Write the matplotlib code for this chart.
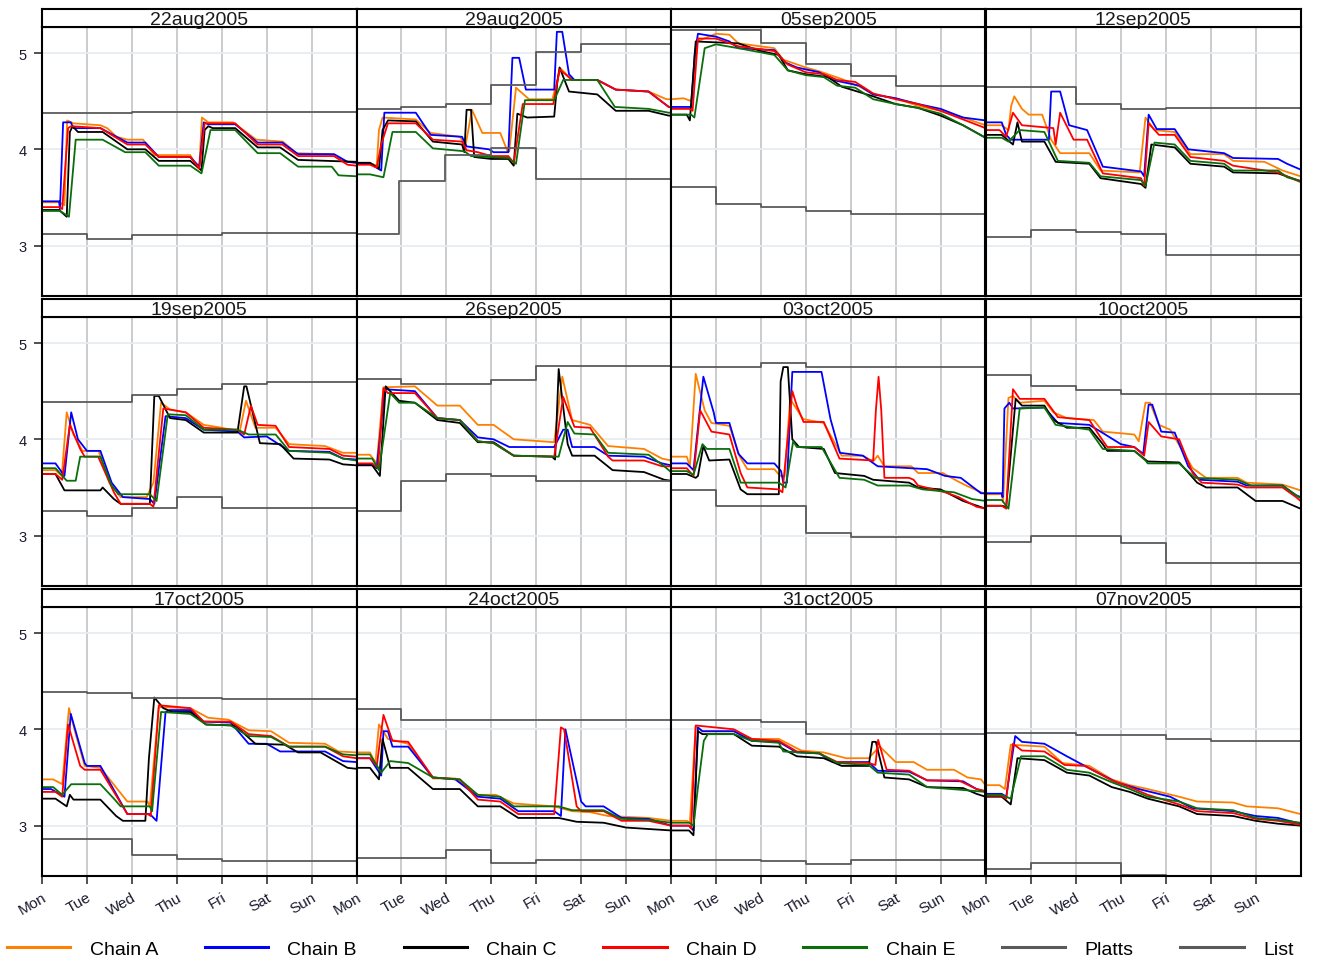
import numpy as np
import matplotlib
matplotlib.use('Agg')
import matplotlib.pyplot as plt
from matplotlib.lines import Line2D

plt.rcParams['font.family'] = ['Liberation Sans', 'DejaVu Sans']

weeks = ['22aug2005', '29aug2005', '05sep2005', '12sep2005',
         '19sep2005', '26sep2005', '03oct2005', '10oct2005',
         '17oct2005', '24oct2005', '31oct2005', '07nov2005']
day_labels = ['Mon', 'Tue', 'Wed', 'Thu', 'Fri', 'Sat', 'Sun']

# (day within week, price), one sublist per week
chain_a = [
    [(0,3.45),(0.38,3.45),(0.5,3.42),(0.56,4.30),(0.7,4.27),(1.3,4.25),(1.45,4.22),(1.66,4.13),(1.9,4.10),(2.25,4.10),(2.5,3.94),(3.3,3.94),(3.45,3.82),(3.5,3.82),(3.56,4.33),(3.7,4.28),(4.25,4.28),(4.77,4.10),(5.36,4.08),(5.66,3.96),(6.4,3.95),(6.77,3.87),(7,3.86)],
    [(0,3.86),(0.29,3.86),(0.45,3.83),(0.5,4.2),(0.58,4.33),(1.32,4.31),(1.65,4.17),(2.3,4.13),(2.43,4.05),(2.57,4.41),(2.8,4.17),(3.2,4.17),(3.36,3.98),(3.4,3.98),(3.55,4.64),(3.84,4.52),(4.36,4.52),(4.54,4.84),(4.8,4.72),(5.36,4.72),(5.77,4.62),(6.5,4.60),(6.9,4.52),(7,4.52)],
    [(0,4.52),(0.28,4.53),(0.45,4.50),(0.58,5.12),(1.0,5.20),(1.3,5.19),(1.5,5.10),(2.3,5.05),(2.5,4.93),(3.0,4.85),(3.3,4.81),(3.8,4.73),(4.2,4.65),(4.5,4.57),(5.0,4.53),(5.5,4.45),(6.0,4.40),(6.5,4.33),(7,4.25)],
    [(0,4.25),(0.35,4.25),(0.5,4.20),(0.56,4.45),(0.63,4.55),(0.8,4.42),(0.95,4.36),(1.25,4.36),(1.45,4.10),(1.65,3.96),(2.3,3.96),(2.55,3.78),(3.42,3.76),(3.55,4.33),(3.75,4.20),(4.2,4.18),(4.55,3.95),(5.3,3.95),(5.5,3.88),(6.2,3.87),(6.6,3.78),(7,3.72)],
    [(0,3.68),(0.3,3.68),(0.44,3.62),(0.55,4.28),(0.7,4.05),(0.9,3.88),(1.26,3.88),(1.5,3.55),(1.75,3.40),(2.33,3.40),(2.48,3.55),(2.65,4.38),(2.85,4.31),(3.2,4.28),(3.6,4.15),(4.0,4.12),(4.4,4.08),(4.54,4.40),(4.75,4.12),(5.2,4.12),(5.5,3.95),(6.3,3.93),(6.7,3.86),(7,3.86)],
    [(0,3.84),(0.3,3.84),(0.45,3.75),(0.6,4.54),(1.3,4.55),(1.8,4.35),(2.3,4.35),(2.7,4.15),(3.05,4.15),(3.5,4.00),(4.4,3.97),(4.58,4.65),(4.8,4.20),(5.2,4.15),(5.6,3.93),(6.4,3.90),(6.8,3.80),(7,3.78)],
    [(0,3.82),(0.35,3.82),(0.42,3.72),(0.55,4.68),(0.75,4.30),(0.9,4.17),(1.3,4.14),(1.53,3.82),(1.7,3.69),(2.3,3.69),(2.43,3.62),(2.53,3.62),(2.65,4.42),(2.94,4.21),(3.4,4.17),(3.8,3.83),(4.27,3.83),(4.5,3.77),(4.6,3.83),(4.75,3.72),(5.35,3.72),(5.5,3.65),(6.05,3.65),(6.4,3.56),(6.57,3.52),(7,3.43)],
    [(0,3.43),(0.35,3.43),(0.38,3.35),(0.5,4.43),(0.6,4.45),(0.75,4.38),(1.3,4.40),(1.5,4.28),(1.8,4.22),(2.4,4.20),(2.6,4.08),(3.3,4.05),(3.4,3.98),(3.55,4.38),(3.65,4.38),(3.85,4.15),(4.1,4.10),(4.6,3.70),(4.9,3.60),(5.6,3.60),(5.8,3.55),(6.6,3.53),(7,3.47)],
    [(0,3.48),(0.25,3.48),(0.45,3.43),(0.6,4.22),(0.75,3.95),(0.95,3.62),(1.3,3.60),(1.9,3.25),(2.35,3.25),(2.4,3.20),(2.6,4.23),(3.3,4.22),(3.7,4.12),(4.15,4.10),(4.6,3.99),(5.1,3.98),(5.5,3.86),(6.3,3.85),(6.6,3.77),(7,3.76)],
    [(0,3.76),(0.3,3.76),(0.42,3.65),(0.5,4.05),(0.7,3.90),(1.15,3.85),(1.7,3.49),(2.2,3.49),(2.7,3.32),(3.1,3.32),(3.5,3.23),(4.4,3.20),(4.8,3.15),(5.2,3.14),(5.6,3.10),(6.5,3.08),(7,3.05)],
    [(0,3.05),(0.35,3.05),(0.42,3.03),(0.55,4.03),(0.7,3.98),(1.4,3.98),(1.8,3.90),(2.4,3.90),(2.9,3.78),(3.4,3.76),(3.9,3.70),(4.4,3.70),(4.6,3.80),(4.65,3.82),(5.0,3.66),(5.4,3.66),(5.7,3.58),(6.3,3.58),(6.6,3.50),(6.9,3.48),(7,3.42)],
    [(0,3.42),(0.3,3.42),(0.42,3.38),(0.55,3.84),(1.3,3.82),(1.7,3.65),(2.3,3.62),(2.8,3.48),(3.2,3.42),(3.6,3.38),(4.3,3.30),(4.7,3.25),(5.5,3.24),(5.8,3.20),(6.5,3.18),(7,3.12)],
]

chain_b = [
    [(0,3.46),(0.38,3.46),(0.4,3.38),(0.47,4.28),(0.64,4.28),(0.7,4.22),(1.3,4.22),(1.9,4.07),(2.3,4.07),(2.6,3.92),(3.3,3.92),(3.5,3.82),(3.6,4.28),(3.7,4.26),(4.3,4.26),(4.8,4.07),(5.35,4.07),(5.7,3.95),(6.5,3.95),(6.8,3.87),(7,3.86)],
    [(0,3.85),(0.3,3.85),(0.55,3.78),(0.62,4.38),(1.32,4.38),(1.65,4.15),(2.35,4.13),(2.45,4.03),(2.95,4.0),(3.05,3.97),(3.38,3.97),(3.47,4.95),(3.62,4.95),(3.77,4.62),(4.4,4.62),(4.46,5.22),(4.58,5.22),(4.73,4.78),(4.85,4.72),(5.36,4.72),(5.77,4.62),(6.5,4.60),(6.95,4.44),(7,4.44)],
    [(0,4.44),(0.45,4.44),(0.53,5.0),(0.6,5.20),(1.0,5.17),(1.3,5.12),(1.5,5.05),(2.3,5.03),(2.55,4.90),(2.8,4.85),(3.3,4.80),(3.6,4.72),(4.2,4.66),(4.5,4.57),(5.0,4.53),(5.5,4.47),(6.0,4.42),(6.5,4.33),(7,4.30)],
    [(0,4.28),(0.35,4.28),(0.45,4.15),(0.55,4.10),(1.4,4.10),(1.45,4.60),(1.65,4.60),(1.85,4.25),(2.25,4.20),(2.6,3.82),(3.45,3.77),(3.52,3.72),(3.62,4.36),(3.8,4.21),(4.2,4.21),(4.5,4.0),(5.3,3.96),(5.5,3.91),(6.5,3.90),(6.7,3.85),(7,3.79)],
    [(0,3.75),(0.3,3.75),(0.5,3.62),(0.65,4.28),(0.8,4.0),(1.0,3.88),(1.3,3.88),(1.55,3.55),(1.8,3.40),(2.4,3.38),(2.5,3.33),(2.75,4.24),(3.2,4.22),(3.6,4.10),(4.35,4.08),(4.5,4.02),(5.0,4.03),(5.5,3.88),(6.4,3.87),(6.7,3.80),(7,3.79)],
    [(0,3.74),(0.35,3.74),(0.45,3.70),(0.63,4.52),(1.3,4.50),(1.8,4.22),(2.3,4.20),(2.7,4.02),(3.05,4.00),(3.4,3.92),(4.4,3.92),(4.6,4.10),(4.7,4.10),(4.8,3.92),(5.3,3.92),(5.6,3.83),(6.4,3.82),(6.8,3.75),(7,3.73)],
    [(0,3.75),(0.35,3.75),(0.5,3.68),(0.72,4.65),(0.95,4.28),(1.0,4.17),(1.3,4.17),(1.5,3.85),(1.7,3.75),(2.3,3.75),(2.45,3.67),(2.5,3.55),(2.58,3.55),(2.7,4.70),(3.35,4.70),(3.55,4.21),(3.76,3.86),(4.27,3.83),(4.6,3.72),(5.7,3.69),(6.1,3.62),(6.45,3.60),(6.9,3.44),(7,3.44)],
    [(0,3.44),(0.35,3.44),(0.37,3.40),(0.41,4.32),(0.52,4.38),(0.6,4.32),(1.3,4.33),(1.6,4.17),(2.3,4.15),(2.55,4.08),(3.0,3.95),(3.3,3.92),(3.5,3.85),(3.62,4.36),(3.7,4.36),(3.9,4.08),(4.2,4.07),(4.5,3.72),(4.75,3.58),(5.6,3.56),(5.8,3.52),(6.6,3.52),(6.9,3.42),(7,3.40)],
    [(0,3.38),(0.2,3.38),(0.5,3.30),(0.64,4.16),(0.95,3.65),(1.0,3.62),(1.3,3.62),(1.9,3.12),(2.4,3.12),(2.55,3.05),(2.75,4.18),(2.85,4.20),(3.3,4.20),(3.6,4.08),(4.2,4.07),(4.6,3.85),(5.0,3.85),(5.3,3.77),(6.3,3.77),(6.7,3.67),(7,3.66)],
    [(0,3.70),(0.3,3.70),(0.55,3.52),(0.6,3.98),(0.7,3.98),(0.8,3.82),(1.15,3.82),(1.7,3.50),(2.2,3.48),(2.7,3.30),(3.2,3.28),(3.6,3.15),(4.4,3.15),(4.55,3.10),(4.65,4.00),(5.0,3.25),(5.1,3.20),(5.5,3.20),(5.9,3.08),(6.5,3.07),(7,3.00)],
    [(0,3.00),(0.4,3.00),(0.5,2.95),(0.6,4.02),(0.7,3.98),(1.4,3.98),(1.8,3.88),(2.4,3.87),(2.8,3.76),(3.3,3.75),(3.6,3.66),(4.4,3.66),(4.6,3.57),(5.3,3.56),(5.7,3.47),(6.5,3.46),(6.8,3.38),(7,3.35)],
    [(0,3.33),(0.35,3.33),(0.45,3.30),(0.65,3.93),(0.8,3.87),(1.3,3.85),(1.8,3.72),(2.2,3.62),(2.9,3.45),(3.4,3.38),(4.1,3.30),(4.6,3.18),(5.5,3.15),(6.0,3.10),(6.5,3.08),(7,3.02)],
]

chain_c = [
    [(0,3.37),(0.38,3.37),(0.55,3.30),(0.62,4.18),(0.68,4.24),(0.8,4.18),(1.35,4.18),(1.9,4.00),(2.3,4.00),(2.6,3.88),(3.3,3.88),(3.55,3.78),(3.62,4.20),(3.7,4.24),(3.8,4.22),(4.3,4.22),(4.8,4.02),(5.3,4.02),(5.7,3.89),(7,3.87)],
    [(0,3.86),(0.3,3.86),(0.5,3.80),(0.58,4.20),(0.7,4.30),(1.32,4.29),(1.7,4.08),(2.35,4.05),(2.4,3.97),(2.45,4.41),(2.55,4.41),(2.62,3.92),(3.0,3.90),(3.38,3.90),(3.5,3.83),(3.58,4.37),(3.8,4.33),(4.4,4.34),(4.47,4.70),(4.52,4.85),(4.73,4.60),(5.36,4.57),(5.77,4.40),(6.5,4.40),(6.95,4.35),(7,4.35)],
    [(0,4.36),(0.35,4.36),(0.42,4.30),(0.55,5.12),(1.5,5.10),(2.0,5.02),(2.4,4.98),(2.6,4.82),(3.0,4.78),(3.5,4.75),(3.8,4.65),(4.5,4.55),(5.0,4.47),(5.5,4.43),(6.0,4.35),(6.5,4.25),(7,4.12)],
    [(0,4.15),(0.35,4.15),(0.6,4.05),(0.7,4.28),(0.8,4.08),(1.3,4.08),(1.55,3.87),(2.3,3.85),(2.55,3.70),(3.45,3.64),(3.55,3.60),(3.68,4.05),(4.2,4.02),(4.55,3.85),(5.3,3.82),(5.5,3.76),(6.5,3.75),(7,3.67)],
    [(0,3.64),(0.3,3.64),(0.5,3.47),(1.3,3.47),(1.35,3.50),(1.6,3.38),(1.75,3.33),(2.4,3.33),(2.5,4.45),(2.6,4.45),(2.85,4.22),(3.2,4.20),(3.6,4.07),(4.35,4.07),(4.5,4.55),(4.55,4.55),(4.85,3.96),(5.3,3.95),(5.6,3.80),(6.4,3.79),(6.7,3.74),(7,3.73)],
    [(0,3.73),(0.35,3.73),(0.52,3.62),(0.65,4.55),(0.95,4.40),(1.3,4.38),(1.8,4.20),(2.3,4.17),(2.7,3.97),(3.05,3.97),(3.5,3.83),(4.35,3.82),(4.42,3.79),(4.5,4.73),(4.7,3.95),(4.8,3.83),(5.3,3.83),(5.7,3.68),(6.4,3.66),(6.85,3.58),(7,3.57)],
    [(0,3.64),(0.35,3.64),(0.55,3.60),(0.6,3.62),(0.72,3.93),(0.85,3.78),(1.3,3.79),(1.55,3.48),(1.7,3.43),(2.4,3.43),(2.44,4.60),(2.5,4.75),(2.6,4.75),(2.7,4.00),(2.85,3.92),(3.4,3.90),(3.65,3.65),(4.3,3.62),(4.5,3.58),(5.3,3.55),(5.5,3.50),(6.0,3.48),(6.5,3.36),(7,3.28)],
    [(0,3.31),(0.35,3.31),(0.45,3.30),(0.66,4.42),(0.8,4.35),(1.3,4.35),(1.5,4.20),(1.8,4.12),(2.3,4.12),(2.6,3.95),(2.7,3.88),(3.3,3.88),(3.6,3.77),(4.3,3.76),(4.7,3.55),(4.9,3.50),(5.6,3.50),(6.0,3.36),(6.6,3.36),(7,3.28)],
    [(0,3.28),(0.3,3.28),(0.55,3.20),(0.62,3.32),(0.7,3.27),(1.3,3.27),(1.65,3.10),(1.8,3.05),(2.3,3.05),(2.38,3.70),(2.5,4.33),(2.7,4.22),(2.9,4.18),(3.3,4.18),(3.65,4.05),(4.3,4.04),(4.75,3.85),(5.4,3.84),(5.7,3.76),(6.2,3.76),(6.8,3.60),(7,3.59)],
    [(0,3.60),(0.3,3.60),(0.5,3.48),(0.58,3.90),(0.75,3.60),(1.15,3.60),(1.7,3.38),(2.3,3.38),(2.7,3.20),(3.2,3.20),(3.6,3.08),(4.5,3.08),(4.9,3.04),(5.5,3.03),(6.0,2.98),(7,2.95)],
    [(0,2.95),(0.4,2.95),(0.5,2.90),(0.6,3.98),(0.7,3.95),(1.4,3.95),(1.8,3.83),(2.4,3.82),(2.8,3.72),(3.4,3.70),(3.8,3.62),(4.4,3.62),(4.48,3.87),(4.56,3.87),(4.75,3.50),(5.3,3.48),(5.7,3.40),(6.5,3.39),(6.8,3.33),(7,3.30)],
    [(0,3.30),(0.35,3.30),(0.55,3.22),(0.7,3.70),(1.3,3.68),(1.8,3.55),(2.3,3.52),(2.8,3.40),(3.2,3.35),(3.6,3.28),(4.3,3.20),(4.7,3.12),(5.5,3.10),(6.0,3.05),(6.5,3.02),(7,3.00)],
]

chain_d = [
    [(0,3.40),(0.38,3.40),(0.45,3.38),(0.58,4.22),(0.65,4.24),(1.3,4.22),(1.9,4.05),(2.3,4.05),(2.6,3.92),(3.3,3.92),(3.5,3.80),(3.62,4.27),(4.3,4.27),(4.8,4.05),(5.35,4.05),(5.7,3.93),(6.5,3.93),(6.8,3.84),(7,3.83)],
    [(0,3.84),(0.3,3.84),(0.45,3.81),(0.55,4.05),(0.7,4.27),(1.32,4.27),(1.7,4.10),(2.35,4.08),(2.45,3.99),(2.7,3.97),(3.0,3.93),(3.38,3.93),(3.5,3.86),(3.7,4.47),(4.38,4.47),(4.52,4.83),(4.8,4.72),(5.36,4.72),(5.77,4.62),(6.5,4.60),(6.95,4.44),(7,4.44)],
    [(0,4.42),(0.4,4.42),(0.48,4.40),(0.6,5.15),(1.0,5.15),(1.5,5.07),(2.3,5.02),(2.6,4.88),(3.0,4.80),(3.4,4.78),(3.7,4.72),(4.1,4.70),(4.5,4.58),(5.0,4.52),(5.5,4.47),(6.0,4.40),(6.5,4.31),(7,4.22)],
    [(0,4.20),(0.3,4.20),(0.45,4.13),(0.6,4.38),(0.8,4.25),(1.5,4.22),(1.55,4.05),(1.65,4.38),(1.95,4.10),(2.25,4.10),(2.6,3.75),(3.45,3.70),(3.52,3.62),(3.62,4.27),(3.85,4.15),(4.2,4.15),(4.55,3.92),(5.3,3.88),(5.5,3.83),(6.5,3.76),(7,3.66)],
    [(0,3.64),(0.3,3.64),(0.45,3.58),(0.62,4.15),(0.85,3.90),(0.95,3.82),(1.25,3.82),(1.6,3.45),(1.75,3.33),(2.4,3.33),(2.48,3.30),(2.7,4.32),(3.2,4.28),(3.6,4.12),(4.35,4.10),(4.5,4.05),(4.65,4.35),(4.8,4.15),(5.2,4.14),(5.5,3.92),(6.4,3.90),(6.7,3.83),(7,3.82)],
    [(0,3.75),(0.35,3.75),(0.48,3.70),(0.6,4.53),(0.7,4.48),(1.3,4.48),(1.8,4.22),(2.3,4.20),(2.7,3.98),(3.05,3.96),(3.5,3.83),(4.4,3.82),(4.6,4.44),(4.85,4.13),(5.2,4.12),(5.6,3.82),(5.7,3.78),(6.4,3.78),(6.8,3.72),(7,3.72)],
    [(0,3.70),(0.35,3.70),(0.5,3.62),(0.65,4.30),(0.9,4.08),(1.3,4.05),(1.55,3.65),(1.7,3.50),(2.4,3.48),(2.48,3.45),(2.7,4.50),(2.8,4.35),(2.95,4.18),(3.4,4.18),(3.75,3.80),(4.5,3.78),(4.56,4.30),(4.62,4.65),(4.68,4.30),(4.75,3.60),(5.3,3.60),(5.4,3.58),(5.5,3.52),(6.1,3.45),(6.4,3.40),(6.8,3.30),(7,3.28)],
    [(0,3.31),(0.35,3.31),(0.45,3.28),(0.6,4.52),(0.75,4.42),(1.3,4.42),(1.6,4.23),(2.3,4.20),(2.55,4.02),(2.7,3.92),(3.3,3.92),(3.52,3.83),(3.62,4.18),(3.9,4.03),(4.3,4.00),(4.6,3.65),(4.8,3.55),(5.6,3.53),(5.8,3.50),(6.6,3.50),(6.9,3.40),(7,3.36)],
    [(0,3.35),(0.3,3.35),(0.45,3.30),(0.58,4.05),(0.85,3.62),(0.95,3.58),(1.3,3.58),(1.9,3.12),(2.35,3.12),(2.42,3.10),(2.6,4.25),(3.3,4.22),(3.6,4.08),(4.2,4.08),(4.6,3.95),(5.1,3.93),(5.5,3.82),(6.3,3.82),(6.7,3.72),(7,3.70)],
    [(0,3.70),(0.3,3.70),(0.45,3.62),(0.6,4.15),(0.8,3.88),(1.15,3.87),(1.7,3.50),(2.3,3.48),(2.7,3.27),(3.2,3.25),(3.6,3.12),(4.4,3.12),(4.55,4.02),(4.62,4.00),(4.9,3.20),(5.0,3.15),(5.5,3.15),(5.9,3.05),(6.5,3.05),(7,3.00)],
    [(0,3.00),(0.4,3.00),(0.45,2.97),(0.55,4.04),(1.4,4.00),(1.8,3.90),(2.4,3.88),(2.8,3.77),(3.3,3.75),(3.7,3.66),(4.4,3.65),(4.55,3.63),(4.61,3.89),(4.8,3.58),(5.3,3.57),(5.7,3.47),(6.4,3.47),(6.8,3.38),(7,3.36)],
    [(0,3.31),(0.35,3.31),(0.45,3.28),(0.6,3.85),(0.8,3.78),(1.3,3.77),(1.75,3.63),(2.2,3.62),(2.8,3.47),(3.2,3.40),(3.6,3.32),(4.3,3.22),(4.7,3.15),(5.5,3.13),(6.0,3.07),(6.5,3.05),(7,3.01)],
]

chain_e = [
    [(0,3.36),(0.4,3.36),(0.6,3.30),(0.75,4.10),(1.35,4.10),(1.85,3.97),(2.3,3.97),(2.6,3.83),(3.3,3.83),(3.55,3.75),(3.75,4.20),(4.3,4.20),(4.8,3.96),(5.3,3.96),(5.7,3.82),(6.45,3.82),(6.6,3.73),(7,3.72)],
    [(0,3.74),(0.3,3.74),(0.6,3.71),(0.8,4.18),(1.32,4.18),(1.7,4.01),(2.4,3.98),(2.55,3.93),(3.38,3.91),(3.55,3.85),(3.75,4.51),(4.4,4.51),(4.6,4.72),(5.36,4.72),(5.75,4.44),(6.5,4.42),(6.95,4.38),(7,4.38)],
    [(0,4.36),(0.45,4.36),(0.52,4.33),(0.75,5.05),(1.0,5.09),(1.5,5.05),(2.3,4.98),(2.6,4.82),(3.0,4.77),(3.4,4.75),(3.7,4.66),(4.1,4.64),(4.5,4.52),(5.0,4.47),(5.5,4.43),(6.0,4.37),(6.5,4.25),(7,4.12)],
    [(0,4.12),(0.35,4.12),(0.5,4.08),(0.75,4.20),(1.3,4.18),(1.6,3.88),(2.3,3.86),(2.55,3.72),(3.45,3.68),(3.55,3.62),(3.75,4.07),(4.2,4.05),(4.55,3.88),(5.3,3.85),(5.5,3.78),(6.5,3.78),(6.7,3.71),(7,3.67)],
    [(0,3.70),(0.3,3.70),(0.55,3.57),(0.75,3.57),(0.85,3.82),(1.3,3.82),(1.55,3.52),(1.7,3.43),(2.4,3.43),(2.55,3.36),(2.8,4.26),(3.2,4.25),(3.6,4.10),(4.35,4.10),(4.6,4.05),(5.2,4.05),(5.5,3.88),(6.4,3.86),(6.7,3.80),(7,3.78)],
    [(0,3.80),(0.35,3.80),(0.5,3.68),(0.75,4.48),(0.95,4.38),(1.3,4.38),(1.8,4.22),(2.3,4.20),(2.7,3.98),(3.05,3.96),(3.5,3.83),(4.5,3.82),(4.7,4.18),(4.85,4.06),(5.3,4.05),(5.6,3.86),(6.5,3.84),(6.85,3.72),(7,3.66)],
    [(0,3.67),(0.35,3.67),(0.5,3.63),(0.7,3.95),(0.8,3.90),(1.3,3.90),(1.55,3.55),(2.4,3.55),(2.55,3.50),(2.72,3.98),(2.8,3.92),(3.35,3.92),(3.75,3.60),(4.3,3.58),(4.6,3.52),(5.3,3.52),(5.6,3.48),(6.3,3.45),(6.7,3.38),(7,3.36)],
    [(0,3.37),(0.35,3.37),(0.5,3.28),(0.58,3.60),(0.75,4.32),(1.3,4.33),(1.55,4.15),(2.3,4.10),(2.6,3.90),(3.3,3.88),(3.55,3.78),(3.6,3.75),(4.3,3.75),(4.65,3.60),(5.6,3.58),(5.9,3.52),(6.6,3.52),(6.9,3.42),(7,3.39)],
    [(0,3.40),(0.25,3.40),(0.45,3.32),(0.65,3.43),(1.3,3.43),(1.6,3.28),(1.75,3.20),(2.4,3.20),(2.45,3.15),(2.65,4.18),(3.3,4.16),(3.65,4.05),(4.2,4.04),(4.6,3.93),(5.1,3.92),(5.5,3.82),(6.3,3.82),(6.7,3.74),(7,3.73)],
    [(0,3.74),(0.3,3.74),(0.55,3.55),(0.75,3.67),(1.15,3.65),(1.7,3.50),(2.3,3.48),(2.7,3.32),(3.2,3.30),(3.5,3.20),(4.5,3.20),(4.8,3.16),(5.5,3.16),(5.9,3.07),(6.5,3.06),(7,3.03)],
    [(0,3.03),(0.4,3.03),(0.5,3.00),(0.6,3.40),(0.73,3.88),(0.82,3.95),(1.4,3.95),(1.8,3.88),(2.4,3.86),(2.5,3.77),(3.3,3.75),(3.7,3.65),(4.4,3.63),(4.6,3.55),(5.3,3.53),(5.7,3.40),(6.5,3.37),(7,3.35)],
    [(0,3.32),(0.35,3.32),(0.55,3.28),(0.78,3.72),(1.3,3.72),(1.8,3.58),(2.3,3.55),(2.8,3.45),(3.2,3.38),(3.6,3.30),(4.3,3.25),(4.7,3.18),(5.5,3.16),(6.0,3.08),(6.5,3.06),(7,3.03)],
]

# step series: (day the level starts, level)
platts = [
    [(0,3.12),(1,3.07),(2,3.11),(4,3.13)],
    [(0,3.12),(0.95,3.67),(1.98,3.94),(3,4.01),(4,3.69)],
    [(0,3.61),(1,3.43),(2,3.40),(3,3.36),(4,3.33)],
    [(0,3.09),(1,3.16),(2,3.14),(3,3.12),(4,2.90)],
    [(0,3.26),(1,3.20),(2,3.29),(3,3.40),(4,3.29)],
    [(0,3.26),(1,3.57),(2,3.64),(3,3.62),(4,3.57)],
    [(0,3.47),(1,3.31),(3,3.03),(4,2.99)],
    [(0,2.93),(1,3.00),(3,2.92),(4,2.72)],
    [(0,2.86),(2,2.69),(3,2.65),(4,2.63)],
    [(0,2.66),(2,2.75),(3,2.61),(4,2.64)],
    [(0,2.64),(2,2.63),(3,2.60),(4,2.64)],
    [(0,2.55),(1,2.61),(3,2.49),(4,2.40)],
]

list_price = [
    [(0,4.38),(2,4.39)],
    [(0,4.42),(1,4.44),(2,4.47),(3,4.67),(4,5.01),(5,5.09)],
    [(0,5.24),(2,5.10),(3,4.89),(4,4.76),(5,4.66)],
    [(0,4.65),(2,4.47),(3,4.42),(4,4.43)],
    [(0,4.39),(2,4.46),(3,4.52),(4,4.57),(5,4.60)],
    [(0,4.63),(1,4.57),(3,4.62),(4,4.76)],
    [(0,4.75),(2,4.79),(3,4.75)],
    [(0,4.67),(1,4.55),(2,4.51),(3,4.47)],
    [(0,4.39),(1,4.38),(2,4.33),(4,4.31)],
    [(0,4.21),(1,4.10)],
    [(0,4.10),(2,4.08),(3,3.95)],
    [(0,3.96),(2,3.94),(4,3.90),(5,3.88)],
]

chains = [('Chain A', chain_a, '#ff8000'),
          ('Chain B', chain_b, '#0000ff'),
          ('Chain C', chain_c, '#000000'),
          ('Chain D', chain_d, '#ff0000'),
          ('Chain E', chain_e, '#0a6e0a')]
steps = [('Platts', platts, '#5a5a5a'),
         ('List', list_price, '#5a5a5a')]

W, H = 1319, 962
fig = plt.figure(figsize=(W / 100, H / 100), dpi=100)

col_left = [42, 356.5, 671, 986]
panel_w = 314.5
row_top = [28, 318, 608]
panel_h = 269
strip_h = 18

for i, wk in enumerate(weeks):
    r, c = divmod(i, 4)
    left = col_left[c] / W
    ax = fig.add_axes([left, 1 - (row_top[r] + panel_h) / H, panel_w / W, panel_h / H])
    ax.set_xlim(0, 7)
    ax.set_ylim(2.477, 5.27)
    ax.set_axisbelow(True)

    for name, data, col in chains:
        pts = np.array(data[i])
        ax.plot(pts[:, 0], pts[:, 1], color=col, lw=1.3)
    for name, data, col in steps:
        pts = np.array(data[i])
        xs = np.append(pts[:, 0], 7)
        ys = np.append(pts[:, 1], pts[-1, 1])
        ax.plot(xs, ys, color=col, lw=1.3, drawstyle='steps-post')

    ax.set_xticks(range(7))
    ax.set_yticks([3, 4, 5])
    ax.grid(axis='x', color='#c8c8c8', lw=1.3)
    ax.grid(axis='y', color='#e6edf1', lw=1.3)
    for sp in ax.spines.values():
        sp.set_linewidth(1.5)
        sp.set_color('black')

    if r == 2:
        ax.set_xticklabels(day_labels, rotation=30, ha='right', va='top',
                           rotation_mode='anchor', fontsize=11, color='#1a1a2e')
        ax.tick_params(axis='x', length=6, width=1.2, pad=4, color='#333333')
    else:
        ax.tick_params(axis='x', length=0, labelbottom=False)
    if c == 0:
        ax.set_yticklabels(['3', '4', '5'], fontsize=10.5, color='#1a1a2e')
        ax.tick_params(axis='y', length=6, width=1.2, pad=5, color='#333333')
    else:
        ax.tick_params(axis='y', length=0, labelleft=False)

    sax = fig.add_axes([left, 1 - row_top[r] / H, panel_w / W, strip_h / H])
    sax.set_xticks([])
    sax.set_yticks([])
    for sp in sax.spines.values():
        sp.set_linewidth(1.5)
    sax.text(0.5, 0.42, wk, ha='center', va='center', fontsize=14,
             color='#1a1a1a', transform=sax.transAxes)

handles = [Line2D([], [], color=col, lw=2.2) for _, _, col in chains + steps]
labels = [name for name, _, _ in chains + steps]
fig.legend(handles, labels, loc='center', bbox_to_anchor=(0.493, 0.012), ncol=7,
           frameon=False, fontsize=14, handlelength=3.25, handletextpad=1.0,
           columnspacing=2.4)

fig.savefig('out.png', dpi=100)
